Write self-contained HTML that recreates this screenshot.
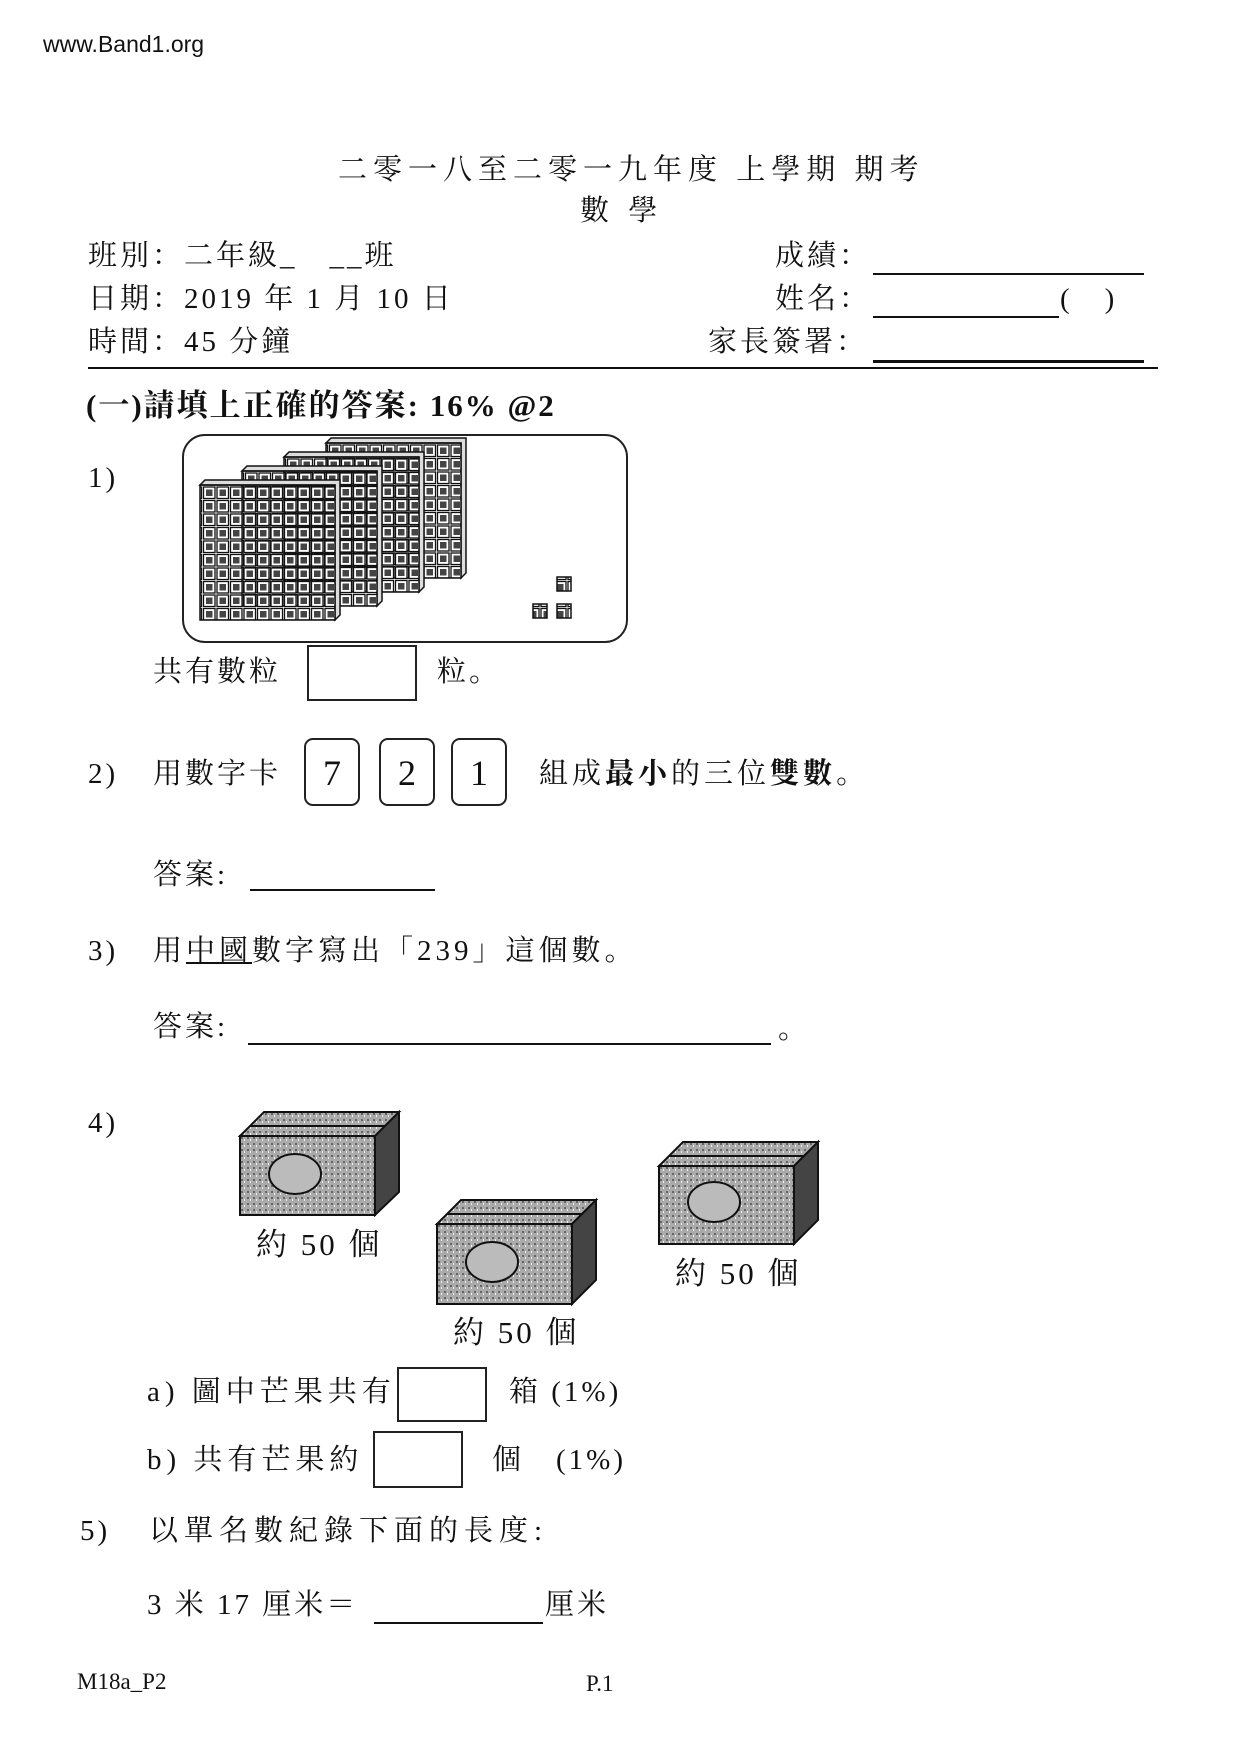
<!DOCTYPE html>
<html><head><meta charset="utf-8"><style>
body{margin:0;width:1240px;height:1754px;background:#fff;position:relative;overflow:hidden;font-family:"Liberation Serif","Noto Serif CJK SC",serif;color:#111}
.t{position:absolute;white-space:nowrap;line-height:1;font-size:29px;letter-spacing:3px}
.l{position:absolute;background:#111;height:2px}
.bx{position:absolute;border:2px solid #222;box-sizing:border-box}
.card{position:absolute;border:2px solid #222;border-radius:9px;width:56px;height:68px;top:738px;font-size:36px;text-align:center;line-height:66px;box-sizing:border-box}
</style></head><body>
<div class="t" style="left:43px;top:33px;font-family:'Liberation Sans',sans-serif;font-size:23px;letter-spacing:0">www.Band1.org</div>
<div class="t" style="left:338px;top:156px;font-size:29px;letter-spacing:6px">二零一八至二零一九年度 上學期 期考</div>
<div class="t" style="left:580px;top:197px;font-size:29px;letter-spacing:6px">數 學</div>
<div class="t" style="left:88px;top:242px">班別：二年級_　__班</div>
<div class="t" style="left:88px;top:285px">日期：2019 年 1 月 10 日</div>
<div class="t" style="left:88px;top:328px">時間：45 分鐘</div>
<div class="t" style="left:775px;top:242px">成績：</div>
<div class="t" style="left:775px;top:285px">姓名：</div>
<div class="t" style="left:708px;top:328px">家長簽署：</div>
<div class="l" style="left:873px;width:271px;top:273px"></div>
<div class="l" style="left:873px;width:186px;top:316px"></div>
<div class="t" style="left:1060px;top:285px">(　)</div>
<div class="l" style="left:873px;width:271px;top:360px;height:3px"></div>
<div class="l" style="left:88px;width:1070px;top:367px"></div>
<div class="t" style="left:86px;top:390px;font-size:31px;font-weight:bold;letter-spacing:2px">(一)請填上正確的答案: 16% @2</div>
<div class="t" style="left:88px;top:464px">1)</div>
<svg style="position:absolute;left:0;top:0" width="1240" height="1754">
<rect x="183" y="435" width="444" height="207" rx="22" fill="none" stroke="#222" stroke-width="2"/>
<defs><pattern id="g" width="13.5" height="13.5" patternUnits="userSpaceOnUse"><rect x="1" y="1" width="11.5" height="11.5" fill="#fff" stroke="#111" stroke-width="1.3"/><rect x="3.5" y="3.5" width="6.5" height="6.5" fill="#444"/></pattern></defs>
<g stroke="#111" stroke-width="1.5">
<g transform="translate(126,-42)"><polygon points="200,485 205,480 340,480 340,615 335,620 335,485" fill="#ddd"/><rect x="200" y="485" width="135" height="135" fill="url(#g)"/></g>
<g transform="translate(84,-28)"><polygon points="200,485 205,480 340,480 340,615 335,620 335,485" fill="#ddd"/><rect x="200" y="485" width="135" height="135" fill="url(#g)"/></g>
<g transform="translate(42,-14)"><polygon points="200,485 205,480 340,480 340,615 335,620 335,485" fill="#ddd"/><rect x="200" y="485" width="135" height="135" fill="url(#g)"/></g>
<g><polygon points="200,485 205,480 340,480 340,615 335,620 335,485" fill="#ddd"/><rect x="200" y="485" width="135" height="135" fill="url(#g)"/></g>
<rect x="557" y="577" width="14" height="14" fill="url(#g)"/><rect x="533" y="604" width="14" height="14" fill="url(#g)"/><rect x="557" y="604" width="14" height="14" fill="url(#g)"/>
</g>
<defs><pattern id="n" width="6" height="6" patternUnits="userSpaceOnUse"><rect width="6" height="6" fill="#aaa"/><rect x="1" y="1" width="2" height="2" fill="#666"/><rect x="4" y="3" width="1" height="2" fill="#eee"/></pattern></defs>
<g stroke="#111" stroke-width="2">
<g transform="translate(240,1112)"><polygon points="0,24 24,0 159,0 135,24" fill="url(#n)"/><line x1="10" y1="14" x2="148" y2="14"/><rect x="0" y="24" width="135" height="79" fill="url(#n)"/><polygon points="135,24 159,0 159,80 135,103" fill="#444"/><ellipse cx="55" cy="62" rx="26" ry="20" fill="#bbb"/></g>
<g transform="translate(437,1200)"><polygon points="0,24 24,0 159,0 135,24" fill="url(#n)"/><line x1="10" y1="14" x2="148" y2="14"/><rect x="0" y="24" width="135" height="80" fill="url(#n)"/><polygon points="135,24 159,0 159,80 135,104" fill="#444"/><ellipse cx="55" cy="62" rx="26" ry="20" fill="#bbb"/></g>
<g transform="translate(659,1142)"><polygon points="0,24 24,0 159,0 135,24" fill="url(#n)"/><line x1="10" y1="14" x2="148" y2="14"/><rect x="0" y="24" width="135" height="78" fill="url(#n)"/><polygon points="135,24 159,0 159,78 135,102" fill="#444"/><ellipse cx="55" cy="60" rx="26" ry="20" fill="#bbb"/></g>
</g>
</svg>
<div class="t" style="left:153px;top:658px">共有數粒</div>
<div class="bx" style="left:307px;top:645px;width:110px;height:56px"></div>
<div class="t" style="left:437px;top:658px">粒。</div>
<div class="t" style="left:88px;top:760px">2)</div>
<div class="t" style="left:153px;top:760px">用數字卡</div>
<div class="card" style="left:304px">7</div>
<div class="card" style="left:379px">2</div>
<div class="card" style="left:451px">1</div>
<div class="t" style="left:539px;top:760px;letter-spacing:4px">組成<b>最小</b>的三位<b>雙數</b>。</div>
<div class="t" style="left:153px;top:861px">答案:</div>
<div class="l" style="left:250px;width:185px;top:889px"></div>
<div class="t" style="left:88px;top:937px">3)</div>
<div class="t" style="left:153px;top:937px;letter-spacing:4px">用<span style="text-decoration:underline">中國</span>數字寫出「239」這個數。</div>
<div class="t" style="left:153px;top:1013px">答案:</div>
<div class="l" style="left:248px;width:523px;top:1043px"></div>
<div class="t" style="left:778px;top:1015px">。</div>
<div class="t" style="left:88px;top:1109px">4)</div>
<div class="t" style="left:256px;top:1229px;font-size:31px">約 50 個</div>
<div class="t" style="left:453px;top:1317px;font-size:31px">約 50 個</div>
<div class="t" style="left:675px;top:1258px;font-size:31px">約 50 個</div>
<div class="t" style="left:147px;top:1378px;letter-spacing:5px">a) 圖中芒果共有</div>
<div class="bx" style="left:397px;top:1367px;width:90px;height:55px"></div>
<div class="t" style="left:509px;top:1378px">箱 (1%)</div>
<div class="t" style="left:147px;top:1446px;letter-spacing:5px">b) 共有芒果約</div>
<div class="bx" style="left:373px;top:1431px;width:90px;height:57px"></div>
<div class="t" style="left:492px;top:1446px">個　(1%)</div>
<div class="t" style="left:80px;top:1517px">5)</div>
<div class="t" style="left:149px;top:1517px;letter-spacing:6px">以單名數紀錄下面的長度:</div>
<div class="t" style="left:147px;top:1591px">3 米 17 厘米＝</div>
<div class="l" style="left:374px;width:169px;top:1622px"></div>
<div class="t" style="left:545px;top:1591px">厘米</div>
<div class="t" style="left:77px;top:1670px;font-size:23px;letter-spacing:0">M18a_P2</div>
<div class="t" style="left:586px;top:1672px;font-size:23px;letter-spacing:0">P.1</div>
</body></html>
